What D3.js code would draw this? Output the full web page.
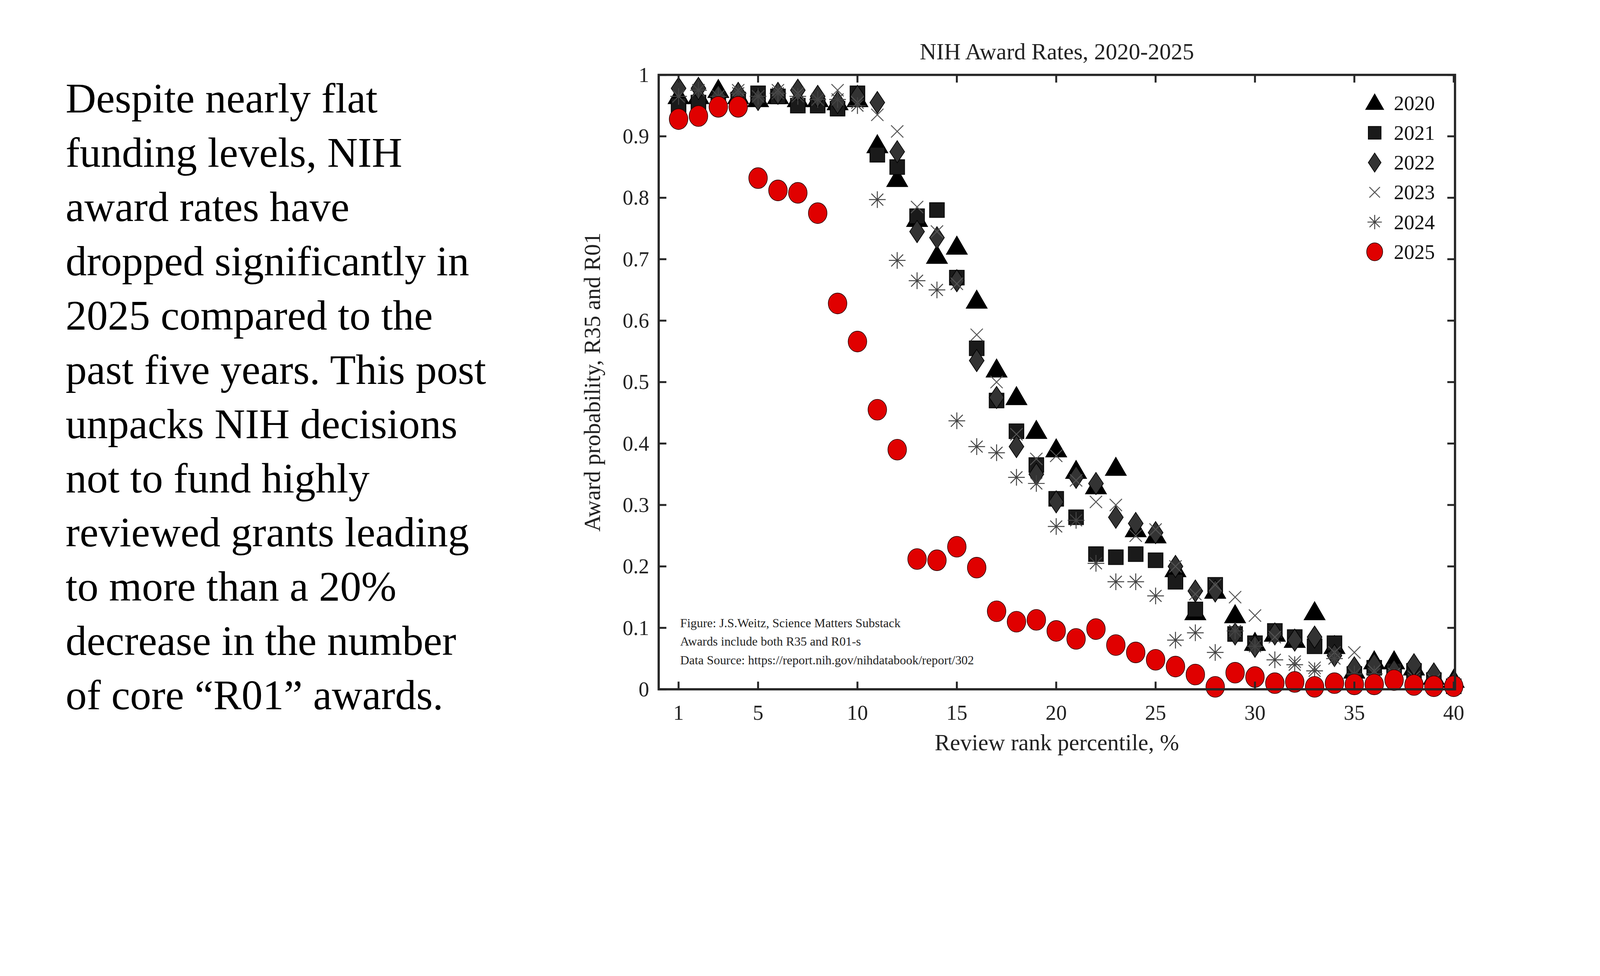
<!DOCTYPE html>
<html><head><meta charset="utf-8">
<script src="https://cdn.jsdelivr.net/npm/d3@7"></script>
<style>html,body{margin:0;padding:0;background:#fff;overflow:hidden}svg{display:block}</style>
</head><body>
<svg id="chart" viewBox="0 0 4999 2499" preserveAspectRatio="xMinYMin meet" style="width:100vw;height:100vh"></svg>
<script>
const percentiles = d3.range(1, 41);
const years = ["2020", "2021", "2022", "2023", "2024", "2025"];
const rates2020 = [.965,.965,.975,.965,.96,.965,.96,.96,.955,.96,.885,.83,.765,.705,.72,.632,.52,.475,.42,.39,.355,.33,.36,.26,.25,.195,.125,.16,.12,.075,.09,.08,.125,.07,.03,.045,.045,.035,.02,.015];
const rates2021 = [.95,.955,.96,.96,.97,.965,.95,.95,.945,.97,.87,.85,.77,.78,.67,.555,.47,.42,.365,.31,.28,.22,.215,.22,.21,.175,.13,.17,.09,.075,.095,.085,.07,.075,.025,.035,.03,.03,.015,.005];
const rates2022 = [.978,.978,.965,.97,.96,.97,.975,.965,.955,.965,.955,.875,.745,.735,.665,.535,.475,.395,.35,.305,.345,.335,.28,.27,.255,.2,.16,.16,.09,.07,.09,.08,.085,.055,.035,.04,.03,.04,.025,.01];
const rates2023 = [.965,.975,.965,.975,.965,.975,.97,.96,.975,.955,.935,.908,.785,.745,.66,.577,.5,.415,.375,.38,.34,.305,.3,.25,.26,.2,.155,.17,.15,.12,.085,.045,.035,.06,.06,.03,.025,.02,.015,.01];
const rates2024 = [.965,.975,.965,.97,.965,.97,.965,.96,.96,.95,.797,.698,.665,.65,.437,.395,.385,.345,.335,.265,.275,.205,.175,.175,.152,.08,.092,.06,.095,.07,.048,.04,.03,.05,.025,.025,.02,.015,.01,.005];
const rates2025 = [.928,.933,.948,.948,.832,.812,.808,.775,.628,.566,.455,.39,.212,.21,.232,.198,.127,.11,.113,.095,.082,.098,.072,.06,.048,.037,.024,.004,.027,.02,.01,.012,.004,.01,.008,.008,.015,.007,.005,.005];
const xTicks = [1, 5, 10, 15, 20, 25, 30, 35, 40];
const yTicks = d3.range(0, 11).map(d => d / 10);
const noteLines = ["Figure: J.S.Weitz, Science Matters Substack", "Awards include both R35 and R01-s", "Data Source: https://report.nih.gov/nihdatabook/report/302"];
const introLines = ["Despite nearly flat", "funding levels, NIH", "award rates have", "dropped significantly in", "2025 compared to the", "past five years. This post", "unpacks NIH decisions", "not to fund highly", "reviewed grants leading", "to more than a 20%", "decrease in the number", "of core \u201cR01\u201d awards."];

const allRates = [rates2020, rates2021, rates2022, rates2023, rates2024, rates2025];
const serif = "Liberation Serif, Times New Roman, serif";
const svg = d3.select("#chart");
const L = 2058, R = 4546, T = 234, B = 2154;
const x = d3.scaleLinear().domain([0, 40]).range([L, L + 40 * 62.1]);
const y = d3.scaleLinear().domain([0, 1]).range([B, T]);

// marker painters
function drawMarker(g, kind, s) {
    if (kind === 0) g.append("path").attr("d", d3.symbol(d3.symbolTriangle, s * s * 0.62)()).attr("transform", "translate(0,4)").attr("fill", "#000");
    else if (kind === 1) g.append("rect").attr("x", -s * 0.4).attr("y", -s * 0.4).attr("width", s * 0.8).attr("height", s * 0.8).attr("fill", "#1a1a1a").attr("stroke", "#000").attr("stroke-width", 2);
    else if (kind === 2) g.append("path").attr("d", `M0,${-s * 0.6}L${s * 0.4},0L0,${s * 0.6}L${-s * 0.4},0Z`).attr("fill", "#333").attr("stroke", "#000").attr("stroke-width", 2);
    else if (kind === 3) g.append("path").attr("d", `M${-s * .33},${-s * .33}L${s * .33},${s * .33}M${-s * .33},${s * .33}L${s * .33},${-s * .33}`).attr("stroke", "#555").attr("stroke-width", 3);
    else if (kind === 4) g.append("path").attr("d", `M0,${-s * .45}V${s * .45}M${-s * .45},0H${s * .45}M${-s * .32},${-s * .32}L${s * .32},${s * .32}M${-s * .32},${s * .32}L${s * .32},${-s * .32}`).attr("stroke", "#444").attr("stroke-width", 3);
    else g.append("ellipse").attr("rx", s * 0.5).attr("ry", s * 0.56).attr("fill", "#e00000").attr("stroke", "#300").attr("stroke-width", 2);
}

allRates.forEach((rates, k) => {
    svg.append("g").selectAll("g").data(rates).enter().append("g")
        .attr("transform", (d, i) => `translate(${x(percentiles[i])},${y(d)})`)
        .each(function () { drawMarker(d3.select(this), k, 58); });
});

// box and ticks
svg.append("rect").attr("x", L).attr("y", T).attr("width", R - L).attr("height", B - T)
    .attr("fill", "none").attr("stroke", "#262626").attr("stroke-width", 7);
const tk = 24;
xTicks.forEach(v => {
    svg.append("line").attr("x1", x(v)).attr("x2", x(v)).attr("y1", B).attr("y2", B - tk).attr("stroke", "#262626").attr("stroke-width", 6);
    svg.append("line").attr("x1", x(v)).attr("x2", x(v)).attr("y1", T).attr("y2", T + tk).attr("stroke", "#262626").attr("stroke-width", 6);
    svg.append("text").attr("x", x(v)).attr("y", B + 95).attr("text-anchor", "middle").attr("font-family", serif).attr("font-size", 66).attr("fill", "#222").text(v);
});
yTicks.forEach(v => {
    svg.append("line").attr("x1", L).attr("x2", L + tk).attr("y1", y(v)).attr("y2", y(v)).attr("stroke", "#262626").attr("stroke-width", 6);
    svg.append("line").attr("x1", R).attr("x2", R - tk).attr("y1", y(v)).attr("y2", y(v)).attr("stroke", "#262626").attr("stroke-width", 6);
    svg.append("text").attr("x", L - 30).attr("y", y(v) + 22).attr("text-anchor", "end").attr("font-family", serif).attr("font-size", 66).attr("fill", "#222").text(v);
});

svg.append("text").attr("x", (L + R) / 2).attr("y", 185).attr("text-anchor", "middle").attr("font-family", serif).attr("font-size", 72).attr("fill", "#222").text("NIH Award Rates, 2020-2025");
svg.append("text").attr("x", (L + R) / 2).attr("y", 2345).attr("text-anchor", "middle").attr("font-family", serif).attr("font-size", 72).attr("fill", "#222").text("Review rank percentile, %");
svg.append("text").attr("transform", `translate(1875,${(T + B) / 2}) rotate(-90)`).attr("text-anchor", "middle").attr("font-family", serif).attr("font-size", 72).attr("fill", "#222").text("Award probability, R35 and R01");

// legend
years.forEach((yr, k) => {
    const g = svg.append("g").attr("transform", `translate(4295,${322 + k * 93})`);
    drawMarker(g, k, 50);
    g.append("text").attr("x", 60).attr("y", 22).attr("font-family", serif).attr("font-size", 64).attr("fill", "#111").text(yr);
});

noteLines.forEach((t, i) => {
    svg.append("text").attr("x", 2125).attr("y", 1960 + i * 58).attr("font-family", serif).attr("font-size", 39).attr("fill", "#222").text(t);
});

introLines.forEach((t, i) => {
    svg.append("text").attr("x", 205).attr("y", 352 + i * 169.5).attr("font-family", serif).attr("font-size", 132).attr("fill", "#000").text(t);
});
</script>
</body></html>
